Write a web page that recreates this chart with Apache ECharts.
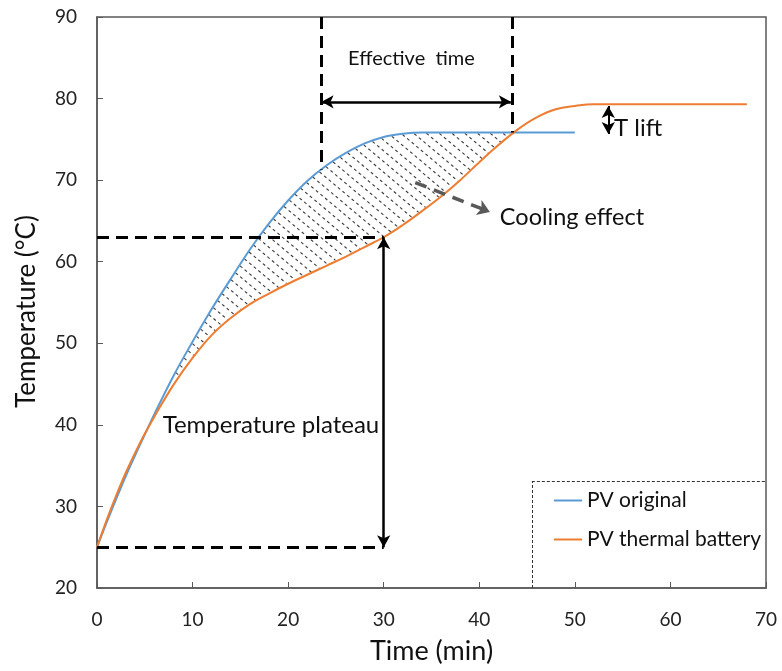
<!DOCTYPE html>
<html>
<head>
<meta charset="utf-8">
<script src="https://cdn.jsdelivr.net/npm/echarts@6/dist/echarts.min.js"></script>
<style>
html,body{margin:0;padding:0;background:#fff;}
#chart{width:782px;height:671px;}
</style>
</head>
<body>
<div id="chart"></div>
<script>
// ---- data ----
const timeOriginal = [0,1,2,3,4,5,6,8,10,12,14,16,18,20,22,24,26,28,30,32,34,36,38,40,42,44,46,48,50];
const pvOriginal   = [25,28,30.9,33.7,36.3,38.8,41.3,46.0,50.2,54.2,57.9,61.5,64.7,67.5,69.9,71.8,73.3,74.5,75.3,75.7,75.85,75.85,75.85,75.85,75.85,75.85,75.85,75.85,75.85];
const timeBattery  = [0,1,2,3,4,5,6,8,10,12,14,16,18,20,22,24,26,28,30,32,34,36,38,40,42,44,46,48,50,52,54,56,58,60,62,64,66,68];
const pvBattery    = [25,28.3,31.3,34.1,36.6,38.9,41.0,44.9,48.2,51.0,53.1,54.8,56.1,57.3,58.4,59.5,60.6,61.8,63.0,64.5,66.2,68.0,70.0,72.2,74.3,76.2,77.7,78.7,79.1,79.3,79.3,79.3,79.3,79.3,79.3,79.3,79.3,79.3];
const xTicks = [0,10,20,30,40,50,60,70];
const yTicks = [20,30,40,50,60,70,80,90];
const seriesNames = ['PV original','PV thermal battery'];

// annotation values (data units)
const effectiveTime = [23.5, 43.5];
const effectiveArrowTemp = 79.6;
const plateauTime = 30;
const plateauTemp = 63;
const startTemp = 25;
const tLiftTime = 53.5;
const tLiftRange = [79.3, 75.85];
const coolingArrow = [[33.3, 69.7], [41.1, 66.1]];
const legendBoxTime = 45.5;
const legendBoxTemp = 33.1;
const labels = [
  {text:'Effective  time', at:[32.9, 84.9], size:20, align:'center'},
  {text:'Temperature plateau', at:[18.2, 40.0], size:24, align:'center'},
  {text:'Cooling effect', at:[49.7, 65.4], size:23.5, align:'center'},
  {text:'T lift', at:[54.1, 76.4], size:24, align:'left'}
];
const hatchRange = [8, 44];

const blueColor = '#5B9BD5';
const orangeColor = '#ED7D31';
const FONT = 'Lato';

// ---- hatch helpers (rendering only) ----
function catmull(pts, n) {
  const out = [];
  for (let i = 0; i < pts.length - 1; i++) {
    const p0 = pts[Math.max(i-1,0)], p1 = pts[i], p2 = pts[i+1], p3 = pts[Math.min(i+2, pts.length-1)];
    for (let k = 0; k < n; k++) {
      const s = k/n, s2 = s*s, s3 = s2*s;
      const f = j => 0.5*((2*p1[j]) + (-p0[j]+p2[j])*s + (2*p0[j]-5*p1[j]+4*p2[j]-p3[j])*s2 + (-p0[j]+3*p1[j]-3*p2[j]+p3[j])*s3);
      out.push([f(0), f(1)]);
    }
  }
  out.push(pts[pts.length-1]);
  return out;
}
function interpY(curve, x) {
  if (x <= curve[0][0]) return curve[0][1];
  for (let i = 1; i < curve.length; i++) {
    if (curve[i][0] >= x) {
      const a = curve[i-1], b = curve[i];
      const r = (x - a[0]) / ((b[0] - a[0]) || 1);
      return a[1] + r*(b[1]-a[1]);
    }
  }
  return curve[curve.length-1][1];
}

function renderHatch(params, api) {
  const up = catmull(timeOriginal.map((t,i)=>api.coord([t, pvOriginal[i]])), 8);
  const lo = catmull(timeBattery.map((t,i)=>api.coord([t, pvBattery[i]])), 8);
  const xa = api.coord([hatchRange[0], 0])[0], xb = api.coord([hatchRange[1], 0])[0];
  const ya = api.coord([0, 90])[1], yb = api.coord([0, 20])[1];
  const ang = 40 * Math.PI / 180;
  const d = [Math.cos(ang), Math.sin(ang)], n = [-Math.sin(ang), Math.cos(ang)];
  const corners = [[xa,ya],[xb,ya],[xa,yb],[xb,yb]];
  const cs = corners.map(p => p[0]*n[0] + p[1]*n[1]);
  const ss = corners.map(p => p[0]*d[0] + p[1]*d[1]);
  const cMin = Math.min(...cs), cMax = Math.max(...cs), sMin = Math.min(...ss), sMax = Math.max(...ss);
  const children = [];
  const spacing = 8.2;
  for (let c = cMin; c <= cMax; c += spacing) {
    let inside = false, start = null, prev = null;
    for (let s = sMin; s <= sMax + 0.5; s += 0.5) {
      const x = c*n[0] + s*d[0], y = c*n[1] + s*d[1];
      let ok = x >= xa && x <= xb;
      if (ok) { const yu = interpY(up, x), yl = interpY(lo, x); ok = y > yu + 0.8 && y < yl - 0.8; }
      if (ok && !inside) { inside = true; start = [x, y]; }
      if (!ok && inside) {
        inside = false;
        if (Math.hypot(prev[0]-start[0], prev[1]-start[1]) > 1.5)
          children.push({type:'line', shape:{x1:start[0], y1:start[1], x2:prev[0], y2:prev[1]},
            style:{stroke:'#3a3a3a', lineWidth:1.1, lineDash:[3,3], fill:null}});
      }
      prev = [x, y];
    }
  }
  return {type:'group', children};
}

const dashBlack = {color:'#000', width:3, type:[12,7]};
const solidArrow = {color:'#000', width:2.5, type:'solid'};
const T0 = 90;

const markLines = [
  [{coord:[effectiveTime[0], T0], symbol:'none', lineStyle:dashBlack},
   {coord:[effectiveTime[0], 71.3], symbol:'none'}],
  [{coord:[effectiveTime[1], T0], symbol:'none', lineStyle:dashBlack},
   {coord:[effectiveTime[1], 75.85], symbol:'none'}],
  [{coord:[effectiveTime[0], effectiveArrowTemp], symbol:'arrow', lineStyle:solidArrow},
   {coord:[effectiveTime[1]-0.2, effectiveArrowTemp], symbol:'arrow'}],
  [{coord:[0, plateauTemp], symbol:'none', lineStyle:dashBlack},
   {coord:[plateauTime, plateauTemp], symbol:'none'}],
  [{coord:[0, startTemp], symbol:'none', lineStyle:dashBlack},
   {coord:[plateauTime, startTemp], symbol:'none'}],
  [{coord:[plateauTime, startTemp], symbol:'arrow', lineStyle:solidArrow},
   {coord:[plateauTime, plateauTemp], symbol:'arrow'}],
  [{coord:[tLiftTime, tLiftRange[0]-0.2], symbol:'arrow', lineStyle:{color:'#000', width:2, type:'solid'}},
   {coord:[tLiftTime, tLiftRange[1]-0.2], symbol:'arrow'}],
  [{coord:coolingArrow[0], symbol:'none', lineStyle:{color:'#595959', width:3.5, type:[12,8]}},
   {coord:coolingArrow[1], symbol:'arrow', symbolSize:[12,12]}],
  [{coord:[legendBoxTime, 20], symbol:'none', lineStyle:{color:'#333', width:1, type:[3,2]}},
   {coord:[legendBoxTime, legendBoxTemp], symbol:'none'}],
  [{coord:[legendBoxTime, legendBoxTemp], symbol:'none', lineStyle:{color:'#333', width:1, type:[3,2]}},
   {coord:[70, legendBoxTemp], symbol:'none'}]
];

const markPoints = labels.map(l => ({
  coord: l.at, name: l.text, symbol:'circle', symbolSize:0,
  label:{show:true, formatter:l.text, position: l.align==='left' ? 'right' : 'inside', distance:0,
         fontFamily:FONT, fontSize:l.size, color:'#111'}
}));

const chart = echarts.init(document.getElementById('chart'), null, {renderer:'canvas'});
chart.setOption({
  animation:false,
  backgroundColor:'#fff',
  grid:{left:97, right:16, top:17, bottom:83, show:true, borderColor:'#595959', borderWidth:1.5, containLabel:false},
  xAxis:{
    type:'value', min:xTicks[0], max:xTicks[xTicks.length-1], interval:10,
    name:'Time (min)', nameLocation:'middle', nameGap:50,
    nameTextStyle:{fontFamily:FONT, fontSize:27, color:'#111'},
    axisLine:{show:true, lineStyle:{color:'#595959', width:1.5}},
    axisTick:{show:true, inside:true, length:6, lineStyle:{color:'#595959'}},
    axisLabel:{fontFamily:FONT, fontSize:19, color:'#222', margin:22},
    splitLine:{show:false}
  },
  yAxis:{
    type:'value', min:yTicks[0], max:yTicks[yTicks.length-1], interval:10,
    name:'Temperature (°C)', nameLocation:'middle', nameGap:57,
    nameTextStyle:{fontFamily:FONT, fontSize:26, color:'#111', padding:[0,18,0,0]},
    axisLine:{show:true, lineStyle:{color:'#595959', width:1.5}},
    axisTick:{show:true, inside:true, length:6, lineStyle:{color:'#595959'}},
    axisLabel:{fontFamily:FONT, fontSize:19, color:'#222', margin:20},
    splitLine:{show:false}
  },
  legend:{
    data:seriesNames, orient:'vertical', left:549, top:485,
    itemWidth:28, itemHeight:2, itemGap:18, icon:'rect',
    textStyle:{fontFamily:FONT, fontSize:21, color:'#111'}
  },
  series:[
    {
      name:'hatch', type:'custom', data:[[hatchRange[0], 50]], renderItem:renderHatch,
      silent:true, z:1, clip:false
    },
    {
      name:seriesNames[0], type:'line', data:timeOriginal.map((t,i)=>[t,pvOriginal[i]]),
      smooth:0.4, symbol:'none', lineStyle:{color:blueColor, width:2}, itemStyle:{color:blueColor}, z:3
    },
    {
      name:seriesNames[1], type:'line', data:timeBattery.map((t,i)=>[t,pvBattery[i]]),
      smooth:0.4, symbol:'none', lineStyle:{color:orangeColor, width:2}, itemStyle:{color:orangeColor}, z:3,
      markLine:{silent:true, symbolSize:[10,12], label:{show:false}, data:markLines, animation:false},
      markPoint:{silent:true, data:markPoints, animation:false}
    }
  ]
});
</script>
</body>
</html>
